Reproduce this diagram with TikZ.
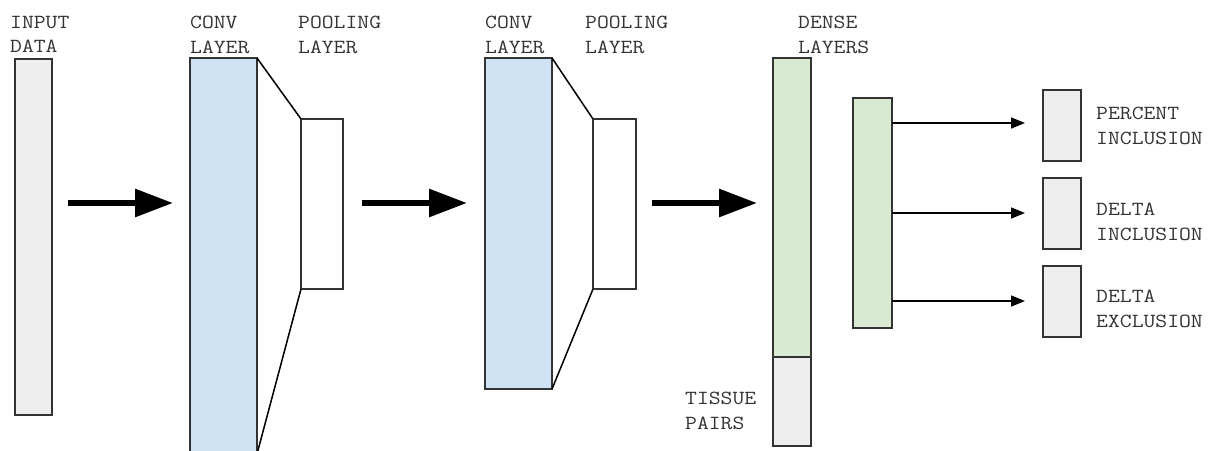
\documentclass[tikz,border=0pt]{standalone}
\usepackage{fontspec}
\setmonofont[FakeStretch=1.15]{Latin Modern Mono}
\usetikzlibrary{arrows.meta}
\definecolor{grayfill}{HTML}{EEEEEE}
\definecolor{bluefill}{HTML}{CFE2F3}
\definecolor{greenfill}{HTML}{D9EAD3}
\definecolor{edge}{HTML}{333333}
\tikzset{
  x=1pt, y=-1pt,
  layerbox/.style={draw=edge, line width=1.5pt, anchor=north west, inner sep=0pt, outer sep=0pt},
  lbl/.style={anchor=north west, inner sep=0pt, align=left, text=edge,
    font=\ttfamily\fontsize{20}{24.5}\selectfont},
  bigarrow/.style={line width=6pt, -{Triangle[length=38pt,width=27pt]}},
  smallarrow/.style={line width=1.5pt, draw=black, -{Triangle[length=14pt,width=11pt]}},
  funnel/.style={line width=1.5pt, draw=black}
}
\begin{document}
\begin{tikzpicture}
\useasboundingbox (0,0) rectangle (1209,450);
\clip (0,0) rectangle (1209,450);
% boxes
\node[layerbox, fill=grayfill, minimum width=37pt, minimum height=356pt] (in) at (15,59) {};
\node[layerbox, fill=bluefill, minimum width=67pt, minimum height=396pt] (c1) at (190,58) {};
\node[layerbox, fill=white, minimum width=42pt, minimum height=170pt] (p1) at (301,119) {};
\node[layerbox, fill=bluefill, minimum width=67pt, minimum height=331pt] (c2) at (485,58) {};
\node[layerbox, fill=white, minimum width=43pt, minimum height=170pt] (p2) at (593,119) {};
\node[layerbox, fill=greenfill, minimum width=38pt, minimum height=299pt] (d1) at (773,58) {};
\node[layerbox, fill=grayfill, minimum width=38pt, minimum height=89pt] (t1) at (773,357) {};
\node[layerbox, fill=greenfill, minimum width=39pt, minimum height=230pt] (d2) at (853,98) {};
\node[layerbox, fill=grayfill, minimum width=38pt, minimum height=71pt] (o1) at (1043,90) {};
\node[layerbox, fill=grayfill, minimum width=38pt, minimum height=71pt] (o2) at (1043,178) {};
\node[layerbox, fill=grayfill, minimum width=38pt, minimum height=71pt] (o3) at (1043,266) {};
% funnels
\draw[funnel] (c1.north east) -- (p1.north west);
\draw[funnel] (c1.south east) -- (p1.south west);
\draw[funnel] (c2.north east) -- (p2.north west);
\draw[funnel] (c2.south east) -- (p2.south west);
% big arrows
\coordinate (a1s) at (68,203); \coordinate (a1e) at (173,203);
\coordinate (a2s) at (362,203); \coordinate (a2e) at (467,203);
\coordinate (a3s) at (652,203); \coordinate (a3e) at (757,203);
\draw[bigarrow] (a1s) -- (a1e);
\draw[bigarrow] (a2s) -- (a2e);
\draw[bigarrow] (a3s) -- (a3e);
% small arrows
\coordinate (s1) at (892,123); \coordinate (s2) at (892,213); \coordinate (s3) at (892,301);
\draw[smallarrow, shorten >=18pt] (s1) -- (o1.west |- s1);
\draw[smallarrow, shorten >=18pt] (s2) -- (o2.west |- s2);
\draw[smallarrow, shorten >=18pt] (s3) -- (o3.west |- s3);
% labels
\node[lbl] (lin) at (10,16) {INPUT\\DATA};
\node[lbl] (lc1) at (190,16) {CONV\\LAYER};
\node[lbl] (lp1) at (298,16) {POOLING\\LAYER};
\node[lbl] (lc2) at (485,16) {CONV\\LAYER};
\node[lbl] (lp2) at (585,16) {POOLING\\LAYER};
\node[lbl] (ld) at (798,16) {DENSE\\LAYERS};
\node[lbl] (lt) at (685,392) {TISSUE\\PAIRS};
\node[lbl] (lo1) at (1096,107) {PERCENT\\INCLUSION};
\node[lbl] (lo2) at (1096,203) {DELTA\\INCLUSION};
\node[lbl] (lo3) at (1096,290) {DELTA\\EXCLUSION};
\end{tikzpicture}
\end{document}
